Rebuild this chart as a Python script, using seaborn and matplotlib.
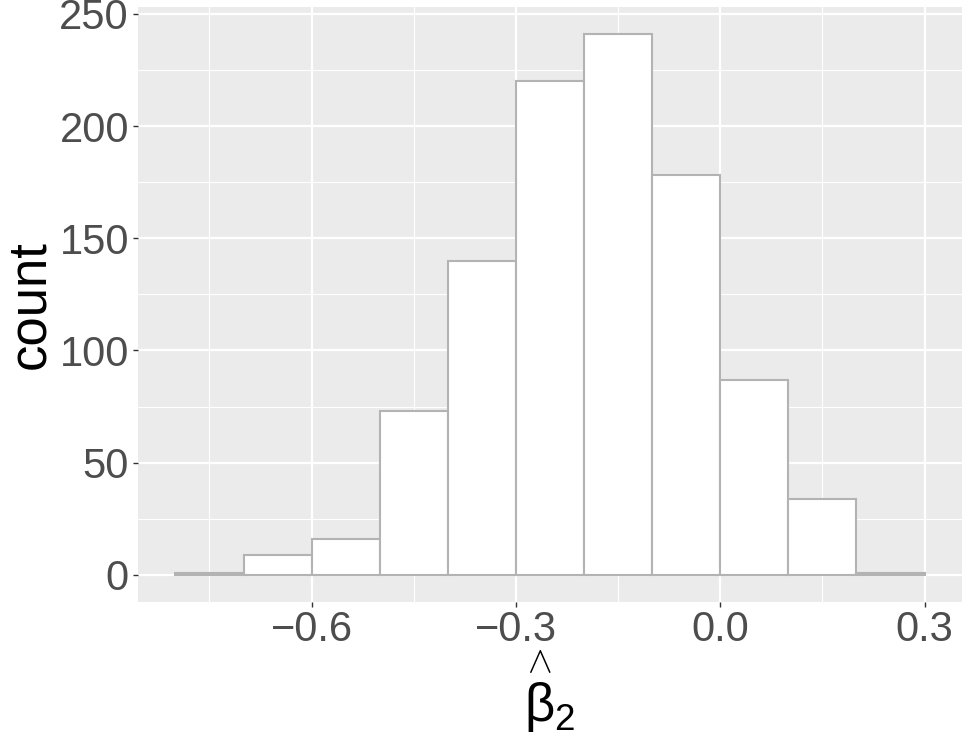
import numpy as np
import pandas as pd
import matplotlib
matplotlib.use("Agg")
import matplotlib.pyplot as plt
import seaborn as sns
from matplotlib.ticker import MultipleLocator

# histogram of simulated beta_2 estimates (bin width 0.1)
bin_edges = [-0.8, -0.7, -0.6, -0.5, -0.4, -0.3, -0.2, -0.1, 0.0, 0.1, 0.2, 0.3]
counts = [1, 9, 16, 73, 140, 220, 241, 178, 87, 34, 1]
x_ticks = [-0.6, -0.3, 0.0, 0.3]
x_ticklabels = ["\u22120.6", "\u22120.3", "0.0", "0.3"]
y_ticks = [0, 50, 100, 150, 200, 250]

centers = [(a + b) / 2 for a, b in zip(bin_edges[:-1], bin_edges[1:])]
df = pd.DataFrame({"beta2": centers, "n": counts})

sns.set_theme(style="darkgrid")
plt.rcParams["font.family"] = ["Liberation Sans", "DejaVu Sans"]
plt.rcParams["mathtext.fontset"] = "custom"
plt.rcParams["mathtext.rm"] = "Liberation Sans"
plt.rcParams["mathtext.it"] = "Liberation Sans"

fig = plt.figure(figsize=(9.69, 7.49), dpi=100)
ax = fig.add_axes([0.1424, 0.1963, 0.8504, 0.7944])
ax.set_facecolor("#EBEBEB")

sns.histplot(data=df, x="beta2", weights="n", bins=bin_edges, ax=ax,
             color="white", edgecolor="#B3B3B3", linewidth=1.5, alpha=1.0)

# ggplot-like expansion
xr = bin_edges[-1] - bin_edges[0]
ax.set_xlim(bin_edges[0] - 0.05 * xr, bin_edges[-1] + 0.05 * xr)
ymax = max(counts)
ax.set_ylim(-0.05 * ymax, 1.05 * ymax)

ax.set_xticks(x_ticks)
ax.set_xticklabels(x_ticklabels)
ax.set_yticks(y_ticks)
ax.xaxis.set_minor_locator(MultipleLocator(0.15))
ax.yaxis.set_minor_locator(MultipleLocator(25))
ax.set_axisbelow(True)
ax.grid(which="major", color="white", linewidth=1.6)
ax.grid(which="minor", color="white", linewidth=0.8)
for s in ax.spines.values():
    s.set_visible(False)

ax.tick_params(axis="both", which="major", labelsize=30, labelcolor="#4D4D4D",
               color="#333333", length=3.5, width=1.0, left=True, bottom=True)
ax.tick_params(axis="x", pad=2)
ax.tick_params(axis="y", pad=3)
ax.tick_params(which="minor", length=0)

ax.set_ylabel("count", fontsize=38, color="black", labelpad=3)
ax.set_xlabel(r"$\overset{\wedge}{\beta}_{2}$", fontsize=38, color="black", labelpad=-1)

fig.savefig("out.png", dpi=100)
